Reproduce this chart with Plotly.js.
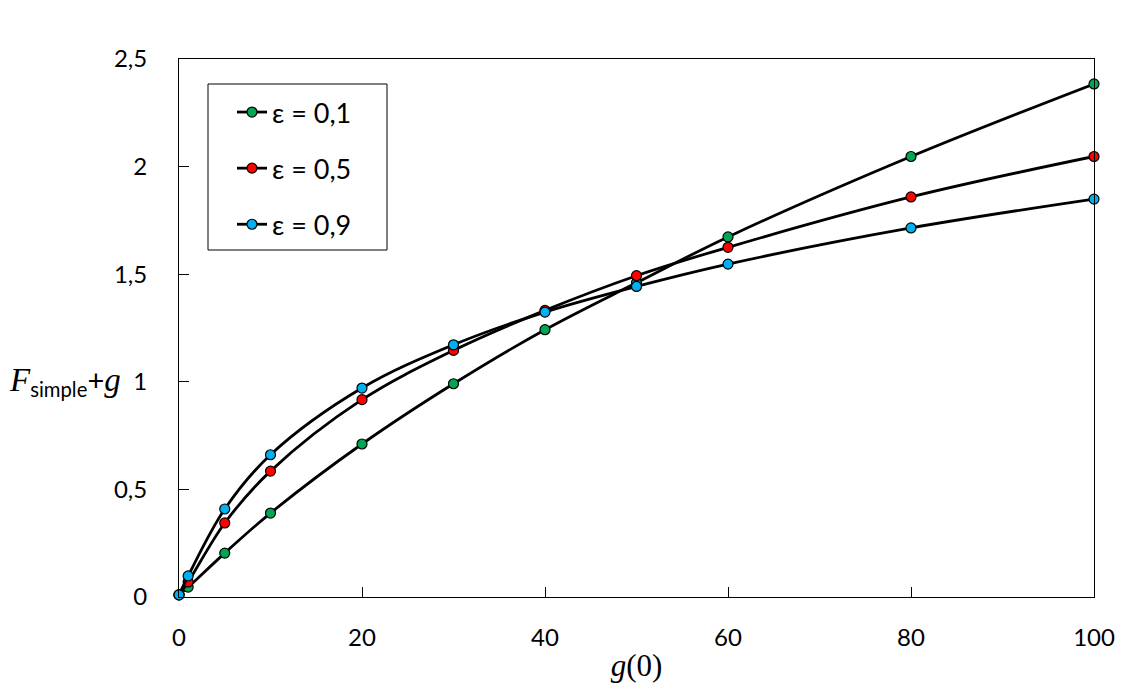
<!DOCTYPE html>
<html>
<head>
<meta charset="utf-8">
<script src="https://cdn.plot.ly/plotly-3.0.1.min.js"></script>
<style>html,body{margin:0;padding:0;background:#fff;}#chart{width:1134px;height:698px;}</style>
</head>
<body>
<div id="chart"></div>
<script>
const g0 = [0, 1, 5, 10, 20, 30, 40, 50, 60, 80, 100];
const eps01 = [0.01, 0.046, 0.204, 0.390, 0.711, 0.991, 1.242, 1.46, 1.673, 2.047, 2.384];
const eps05 = [0.01, 0.07, 0.344, 0.585, 0.917, 1.146, 1.332, 1.493, 1.625, 1.859, 2.047];
const eps09 = [0.01, 0.098, 0.409, 0.661, 0.971, 1.172, 1.324, 1.443, 1.547, 1.715, 1.849];
const seriesNames = ['ε = 0,1', 'ε = 0,5', 'ε = 0,9'];
const seriesColors = ['#00A651', '#FF0000', '#00B0F0'];
const seriesData = [eps01, eps05, eps09];

const traces = seriesData.map((ys, i) => ({
  x: g0, y: ys, name: seriesNames[i], type: 'scatter', mode: 'lines+markers',
  legendgroup: 'g' + i,
  line: {color: '#000', width: 2.8, shape: 'spline', smoothing: 1},
  marker: {color: seriesColors[i], size: 10, line: {color: '#000', width: 1.2}},
  cliponaxis: false
}));

// plot area in px: x 179..1094, y 59..597
const W = 915, H = 538;
const px = v => (v - 179) / W;
const py = v => (597 - v) / H;

const tickFont = {family: 'Lato, "Open Sans", sans-serif', size: 24, color: '#000'};
const layout = {
  width: 1134, height: 698,
  margin: {l: 179, r: 40, t: 59, b: 101},
  paper_bgcolor: '#fff', plot_bgcolor: '#fff',
  separators: ', ',
  showlegend: true,
  legend: {
    x: px(232), y: py(88), xanchor: 'left', yanchor: 'top',
    borderwidth: 0, bgcolor: 'rgba(0,0,0,0)',
    font: {family: 'Lato, "Open Sans", sans-serif', size: 27, color: '#000'},
    traceorder: 'grouped', tracegroupgap: 18, itemwidth: 30
  },
  shapes: [{
    type: 'rect', xref: 'paper', yref: 'paper',
    x0: px(208), x1: px(387), y0: py(250), y1: py(84),
    line: {color: '#000', width: 1}, fillcolor: 'rgba(0,0,0,0)', layer: 'above'
  }],
  xaxis: {
    range: [0, 100], tickvals: [0, 20, 40, 60, 80, 100],
    showgrid: false, zeroline: false,
    showline: true, linecolor: '#000', linewidth: 1, mirror: true,
    ticks: 'inside', ticklen: 10, tickcolor: '#000', tickwidth: 1,
    tickfont: tickFont, ticklabelstandoff: 19,
    title: {text: '<i>g</i>(0)', font: {family: '"Liberation Serif", "Times New Roman", serif', size: 31, color: '#000'}, standoff: 4}
  },
  yaxis: {
    range: [0, 2.5], tickvals: [0, 0.5, 1, 1.5, 2, 2.5],
    showgrid: false, zeroline: false,
    showline: true, linecolor: '#000', linewidth: 1, mirror: true,
    ticks: 'inside', ticklen: 10, tickcolor: '#000', tickwidth: 1,
    tickfont: tickFont, ticklabelstandoff: 26
  },
  annotations: [{
    xref: 'paper', yref: 'y', x: px(7), y: 1, xanchor: 'left', yanchor: 'middle',
    showarrow: false,
    text: '<i>F</i><span style="font-family:Lato, sans-serif;font-size:29px"><sub>simple</sub>+</span><i>g</i>',
    font: {family: '"Liberation Serif", "Times New Roman", serif', size: 33, color: '#000'}
  }]
};

Plotly.newPlot('chart', traces, layout, {displayModeBar: false, staticPlot: true});
</script>
</body>
</html>
